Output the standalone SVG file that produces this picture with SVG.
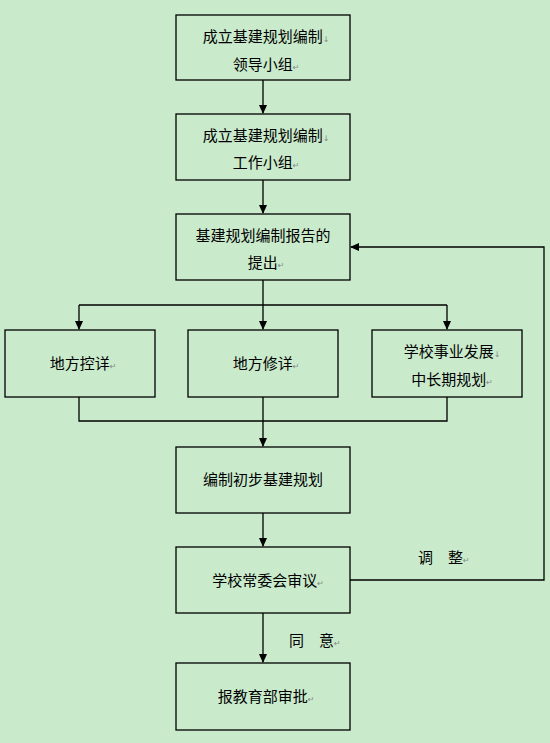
<svg xmlns="http://www.w3.org/2000/svg" width="550" height="743" viewBox="0 0 550 743">
<style>
.box{fill:#C9EACB;stroke:#000;stroke-width:1.3}
.t{font-family:"Liberation Sans","Noto Sans CJK SC",sans-serif;font-size:15px;fill:#000;text-anchor:middle}
.l{font-family:"Liberation Sans","Noto Sans CJK SC",sans-serif;font-size:15px;fill:#000;text-anchor:start}
.m{font-family:"DejaVu Sans",sans-serif;font-size:8px;fill:#888}
.c{fill:none;stroke:#000;stroke-width:1.3}
</style>
<defs>
<marker id="ar" markerWidth="10" markerHeight="10" refX="8" refY="5" orient="auto" markerUnits="userSpaceOnUse">
<path d="M0,1 L9,5 L0,9 Z" fill="#000"/>
</marker>
</defs>
<rect width="550" height="743" fill="#C9EACB"/>
<g id="connectors">
<path class="c" d="M263,80 V113" marker-end="url(#ar)"/>
<path class="c" d="M263,180 V213" marker-end="url(#ar)"/>
<path class="c" d="M263,280 V305"/>
<path class="c" d="M79,305 H447"/>
<path class="c" d="M79,305 V329" marker-end="url(#ar)"/>
<path class="c" d="M263,305 V329" marker-end="url(#ar)"/>
<path class="c" d="M447,305 V329" marker-end="url(#ar)"/>
<path class="c" d="M79,397 V421 H447 V397"/>
<path class="c" d="M263,397 V446" marker-end="url(#ar)"/>
<path class="c" d="M263,513 V546" marker-end="url(#ar)"/>
<path class="c" d="M350,580 H544 V247 H351" marker-end="url(#ar)"/>
<path class="c" d="M263,613 V662" marker-end="url(#ar)"/>
<text class="l" x="418" y="563">调</text>
<text class="l" x="448" y="563">整<tspan class="m">↵</tspan></text>
<text class="l" x="289" y="646">同</text>
<text class="l" x="319" y="646">意<tspan class="m">↵</tspan></text>
</g>
<g id="n1">
<rect class="box" x="176" y="15" width="174" height="65"/>
<text class="t" x="266" y="42">成立基建规划编制<tspan class="m">↓</tspan></text>
<text class="t" x="266" y="70">领导小组<tspan class="m">↵</tspan></text>
</g>
<g id="n2">
<rect class="box" x="176" y="114" width="174" height="66"/>
<text class="t" x="266" y="141">成立基建规划编制<tspan class="m">↓</tspan></text>
<text class="t" x="266" y="168">工作小组<tspan class="m">↵</tspan></text>
</g>
<g id="n3">
<rect class="box" x="176" y="214" width="174" height="66"/>
<text class="t" x="263" y="241">基建规划编制报告的</text>
<text class="t" x="266" y="268">提出<tspan class="m">↵</tspan></text>
</g>
<g id="n4">
<rect class="box" x="5" y="330" width="150" height="67"/>
<text class="t" x="83" y="369">地方控详<tspan class="m">↵</tspan></text>
</g>
<g id="n5">
<rect class="box" x="188" y="330" width="150" height="67"/>
<text class="t" x="266" y="369">地方修详<tspan class="m">↵</tspan></text>
</g>
<g id="n6">
<rect class="box" x="372" y="330" width="150" height="67"/>
<text class="t" x="452" y="357">学校事业发展<tspan class="m">↓</tspan></text>
<text class="t" x="452" y="385">中长期规划<tspan class="m">↵</tspan></text>
</g>
<g id="n7">
<rect class="box" x="176" y="447" width="174" height="66"/>
<text class="t" x="263" y="485">编制初步基建规划</text>
</g>
<g id="n8">
<rect class="box" x="176" y="547" width="174" height="66"/>
<text class="t" x="268" y="586">学校常委会审议<tspan class="m">↵</tspan></text>
</g>
<g id="n9">
<rect class="box" x="176" y="663" width="174" height="67"/>
<text class="t" x="266" y="702">报教育部审批<tspan class="m">↵</tspan></text>
</g>
</svg>
